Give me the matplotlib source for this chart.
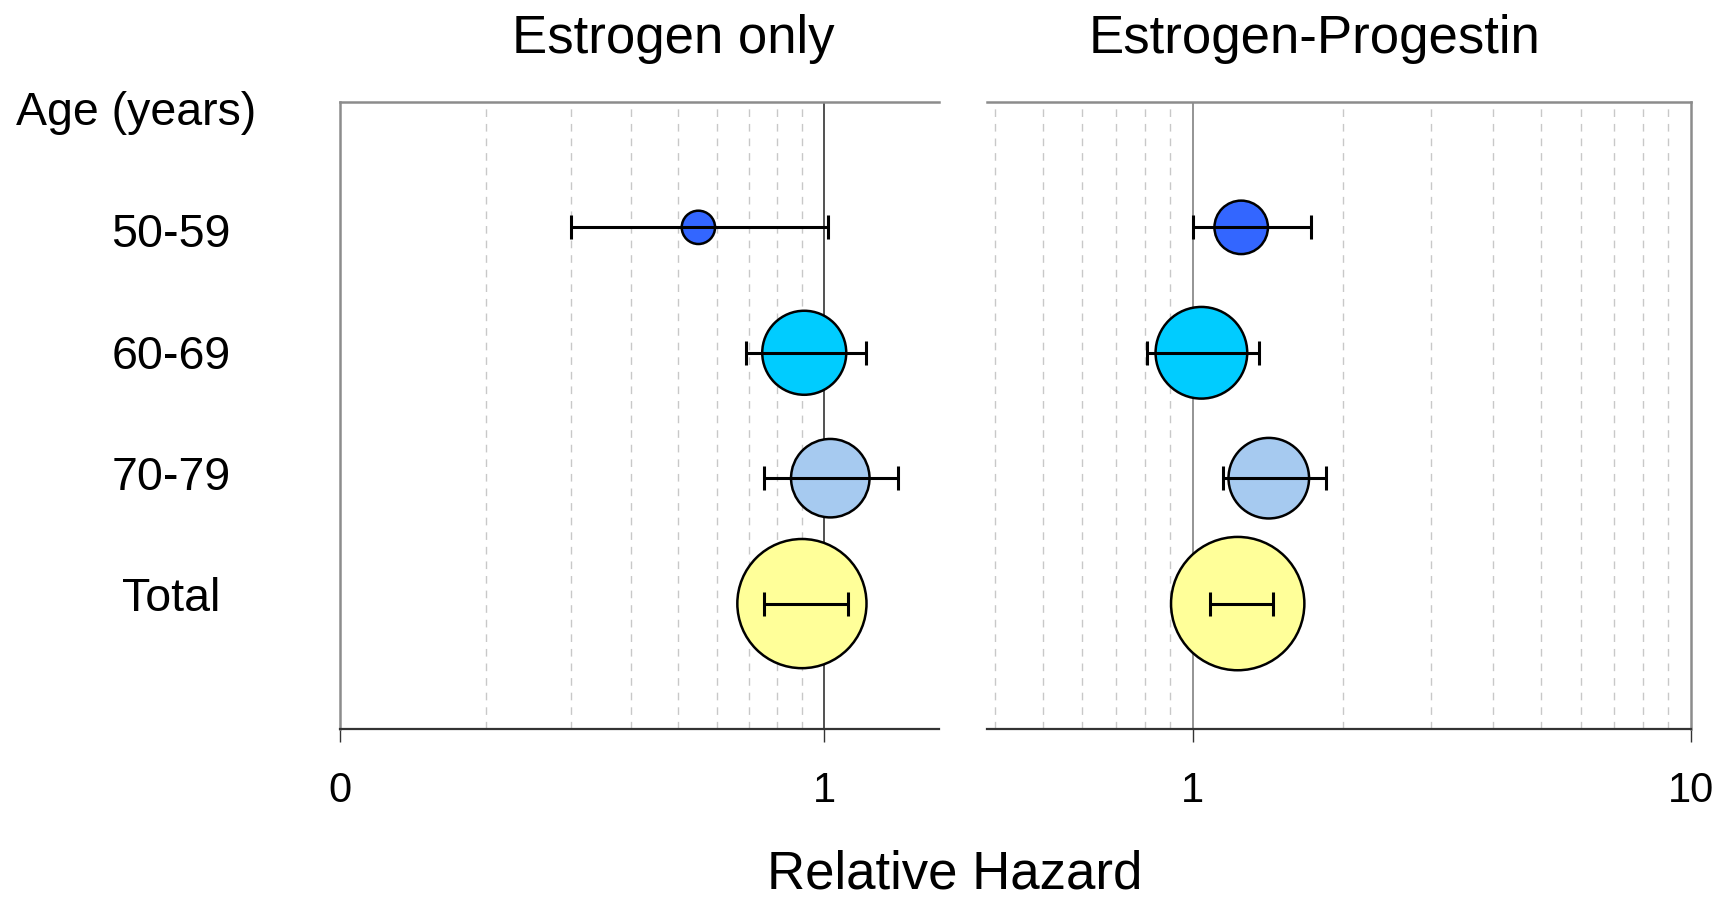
import matplotlib
matplotlib.use('Agg')
import matplotlib.pyplot as plt
import numpy as np
from matplotlib.ticker import FixedLocator, LogLocator, NullFormatter
from matplotlib.transforms import blended_transform_factory

plt.rcParams['font.family'] = ['Liberation Sans', 'DejaVu Sans']

# data
groups = ['50-59', '60-69', '70-79', 'Total']
row_colors = ['#3366ff', '#00ccff', '#a6caf0', '#ffff99']

eo_hr = [0.55, 0.91, 1.03, 0.90]
eo_lo = [0.30, 0.69, 0.75, 0.75]
eo_hi = [1.02, 1.22, 1.42, 1.12]
eo_bubble = [24.0, 60.5, 56.5, 93.0]   # bubble diameter (pt)

ep_hr = [1.25, 1.04, 1.42, 1.23]
ep_lo = [1.00, 0.81, 1.15, 1.08]
ep_hi = [1.73, 1.36, 1.85, 1.45]
ep_bubble = [38.5, 66.0, 58.0, 96.0]

fig = plt.figure(figsize=(17.18, 8.99), dpi=100)
axL = fig.add_axes([0.1979, 0.1891, 0.3487, 0.6975])
axR = fig.add_axes([0.5745, 0.1891, 0.4098, 0.6975])

rows = np.arange(1, len(groups) + 1)


def panel(ax, hr, lo, hi, bub, xlim, ticks, ticklabels, hide, linecol):
    hr = np.array(hr)
    lo = np.array(lo)
    hi = np.array(hi)
    ax.set_xscale('log')
    ax.set_xlim(*xlim)
    ax.set_ylim(5, 0)
    ax.set_yticks([])
    ax.xaxis.set_major_locator(FixedLocator(ticks))
    ax.set_xticklabels(ticklabels)
    ax.xaxis.set_minor_locator(LogLocator(subs=np.arange(2, 10)))
    ax.xaxis.set_minor_formatter(NullFormatter())
    ax.tick_params(axis='x', which='major', length=9, width=1,
                   color='#333333', pad=21, labelsize=30)
    ax.tick_params(axis='x', which='minor', length=0)
    ax.set_axisbelow(True)
    ax.grid(which='minor', axis='x', color='#c8c8c8',
            linestyle=(0, (5.5, 5)), linewidth=1.0)
    ax.axvline(1, color=linecol, lw=1.1, zorder=2)

    ax.scatter(hr, rows, s=np.array(bub) ** 2, c=row_colors,
               edgecolors='black', linewidths=1.8, zorder=3)
    ax.errorbar(hr, rows, xerr=[hr - lo, hi - hr], fmt='none',
                ecolor='black', elinewidth=2.2, capsize=8.6,
                capthick=2.2, zorder=4)

    for s in ['top', 'left', 'right']:
        ax.spines[s].set_color('#8c8c8c')
        ax.spines[s].set_linewidth(1.8)
    ax.spines['bottom'].set_color('#333333')
    ax.spines['bottom'].set_linewidth(1.6)
    ax.spines[hide].set_visible(False)


panel(axL, eo_hr, eo_lo, eo_hi, eo_bubble, (0.1, 1.728),
      [0.1, 1], ['0', '1'], 'right', '#222222')
panel(axR, ep_hr, ep_lo, ep_hi, ep_bubble, (0.386, 10),
      [1, 10], ['1', '10'], 'left', '#777777')

fig.text(0.3917, 0.9415, 'Estrogen only', fontsize=38,
         ha='center', va='baseline')
fig.text(0.7654, 0.9415, 'Estrogen-Progestin', fontsize=38,
         ha='center', va='baseline')
fig.text(0.0091, 0.861, 'Age (years)', fontsize=33.5,
         ha='left', va='baseline')

# row labels sit slightly off the bubble rows in the original
label_y = [1.06, 2.03, 3.0, 3.96]
trans = blended_transform_factory(fig.transFigure, axL.transData)
for g, y in zip(groups, label_y):
    fig.text(0.0995, y, g, fontsize=33.5, ha='center', va='center',
             transform=trans)

fig.text(0.5559, 0.012, 'Relative Hazard', fontsize=38,
         ha='center', va='baseline')

fig.savefig('out.png', dpi=100)
